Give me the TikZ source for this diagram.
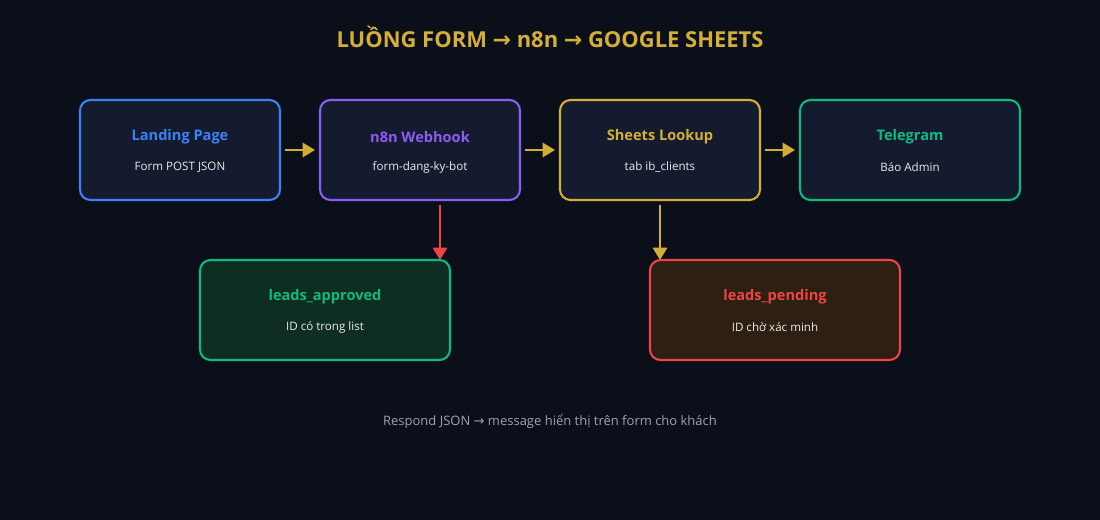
\documentclass[tikz,border=0pt]{standalone}
\usepackage{fontspec}
\setmainfont{Open Sans}
\newfontfamily\symf{DejaVu Sans}
\newcommand{\rarr}{{\symf →}}
\usetikzlibrary{arrows.meta}
\definecolor{bg}{HTML}{0B0F1A}
\definecolor{boxf}{HTML}{151B2E}
\definecolor{cblue}{HTML}{3B82F6}
\definecolor{cpurp}{HTML}{8B5CF6}
\definecolor{cgold}{HTML}{D4AF37}
\definecolor{cgreen}{HTML}{10B981}
\definecolor{cred}{HTML}{EF4444}
\definecolor{fgreen}{HTML}{0F2E22}
\definecolor{fred}{HTML}{2D2012}
\definecolor{cgray}{HTML}{9CA3AF}
\tikzset{
  box/.style={draw=#1, line width=1.2pt, rounded corners=6pt, fill=boxf},
  ttl/.style={font=\fontsize{8.3}{10}\selectfont\bfseries},
  sub/.style={font=\fontsize{6.6}{8}\selectfont, text=white!92!black},
  arr/.style={draw=#1, line width=1.6pt, -{Triangle[length=7pt,width=8pt]}},
}
\begin{document}
\begin{tikzpicture}[x=0.02cm,y=-0.02cm]
\fill[bg] (0,0) rectangle (1100,520);
\useasboundingbox (0,0) rectangle (1100,520);
\node[text=cgold, font=\fontsize{12.5}{14}\selectfont\bfseries] (title) at (550,37) {LUỒNG FORM \rarr{} n8n \rarr{} GOOGLE SHEETS};
% top row
\draw[box=cblue] (80,100) rectangle (280,200);
\node[ttl,text=cblue] (t1) at (180,137) {Landing Page};
\node[sub] (s1) at (180,167) {Form POST JSON};
\coordinate (b1r) at (285,150);
\draw[box=cpurp] (320,100) rectangle (520,200);
\node[ttl,text=cpurp] (t2) at (420,137) {n8n Webhook};
\node[sub] (s2) at (420,167) {form-dang-ky-bot};
\coordinate (b2l) at (315,150);
\coordinate (b2r) at (525,150);
\coordinate (b2b) at (440,205);
\draw[box=cgold] (560,100) rectangle (760,200);
\node[ttl,text=cgold] (t3) at (660,137) {Sheets Lookup};
\node[sub] (s3) at (660,167) {tab ib\_clients};
\coordinate (b3l) at (555,150);
\coordinate (b3r) at (765,150);
\coordinate (b3b) at (660,205);
\draw[box=cgreen] (800,100) rectangle (1020,200);
\node[ttl,text=cgreen] (t4) at (910,137) {Telegram};
\node[sub] (s4) at (910,167) {Báo Admin};
\coordinate (b4l) at (795,150);
% bottom
\draw[box=cgreen, fill=fgreen] (200,260) rectangle (450,360);
\node[ttl,text=cgreen] (t5) at (325,297) {leads\_approved};
\node[sub] (s5) at (325,327) {ID có trong list};
\coordinate (b5t) at (440,260);
\draw[box=cred, fill=fred] (650,260) rectangle (900,360);
\node[ttl,text=cred] (t6) at (775,297) {leads\_pending};
\node[sub] (s6) at (775,327) {ID chờ xác minh};
\coordinate (b6t) at (660,260);
% arrows
\draw[arr=cgold] (b1r) -- (b2l);
\draw[arr=cgold] (b2r) -- (b3l);
\draw[arr=cgold] (b3r) -- (b4l);
\draw[arr=cred] (b2b) -- (b5t);
\draw[arr=cgold] (b3b) -- (b6t);
\node[text=cgray, font=\fontsize{7.4}{9}\selectfont] (foot) at (550,421) {Respond JSON \rarr{} message hiển thị trên form cho khách};
\end{tikzpicture}
\end{document}
